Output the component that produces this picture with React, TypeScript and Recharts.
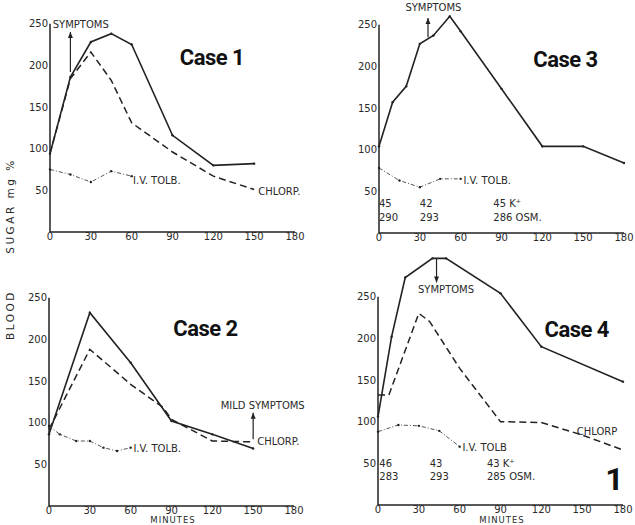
import { Line, LineChart, ReferenceDot, ReferenceLine, XAxis, YAxis } from "recharts"

const minuteTicks = [0, 30, 60, 90, 120, 150, 180]
const sugarTicks = [50, 100, 150, 200, 250]

// Case 1
const case1Minutes = [0, 15, 30, 45, 60, 90, 120, 150]
const case1Solid = [94, 186, 228, 238, 225, 116, 80, 82]
const case1Chlorp = [94, 184, 216, 182, 131, 96, 67, 51]
const case1TolbMinutes = [0, 15, 30, 45, 60]
const case1Tolb = [75, 69, 60, 73, 67]

// Case 2
const case2SolidMinutes = [0, 30, 60, 90, 120, 150]
const case2Solid = [86, 232, 172, 102, 86, 69]
const case2ChlorpMinutes = [0, 30, 60, 84, 90, 120, 150]
const case2Chlorp = [92, 188, 146, 118, 104, 78, 77]
const case2TolbMinutes = [0, 8, 20, 30, 40, 50, 60]
const case2Tolb = [96, 86, 78, 78, 70, 66, 70]

// Case 3
const case3Minutes = [0, 10, 20, 30, 40, 52, 60, 90, 120, 150, 180]
const case3Solid = [104, 157, 176, 227, 237, 260, 242, 173, 104, 104, 84]
const case3TolbMinutes = [0, 15, 30, 45, 60]
const case3Tolb = [78, 63, 55, 65, 65]

// Case 4
const case4SolidMinutes = [0, 10, 20, 40, 50, 90, 120, 180]
const case4Solid = [106, 202, 273, 296, 296, 254, 190, 148]
const case4ChlorpMinutes = [0, 8, 30, 38, 60, 90, 120, 150, 180]
const case4Chlorp = [132, 132, 230, 220, 164, 100, 99, 84, 66]
const case4TolbMinutes = [0, 15, 30, 45, 60]
const case4Tolb = [88, 96, 95, 89, 70]

const rows = (xs: number[], ys: number[]) => xs.map((m, i) => ({ minute: m, sugar: ys[i] }))

const INK = "#222"
const TEXT = "#2a2a2a"
const FONT = "'DejaVu Sans', sans-serif"

type Note = { x: number; y: number; text: string; anchor?: "start" | "middle" | "end"; size?: number; bold?: boolean; title?: boolean }
type Arrow = { x: number; from: number; to: number }

const noteShape = (n: Note) => (p: any) => (
  <text
    x={p.cx}
    y={p.cy}
    textAnchor={n.anchor ?? "start"}
    fontFamily={n.title ? "Roboto, 'Liberation Sans', sans-serif" : FONT}
    fontWeight={n.bold ? 700 : 400}
    fontSize={n.size ?? 10}
    letterSpacing={n.title ? -0.5 : 0}
    fill={n.title ? "#111" : TEXT}
  >
    {n.text}
  </text>
)

const headShape = (up: boolean) => (p: any) => {
  const d = up ? 6 : -6
  return <path d={`M${p.cx},${p.cy} L${p.cx - 2.5},${p.cy + d} L${p.cx + 2.5},${p.cy + d} Z`} fill={INK} />
}

interface PanelProps {
  left: number
  top: number
  solid: { minute: number; sugar: number }[]
  chlorp?: { minute: number; sugar: number }[]
  tolb: { minute: number; sugar: number }[]
  notes: Note[]
  arrows: Arrow[]
}

const Panel = ({ left, top, solid, chlorp, tolb, notes, arrows }: PanelProps) => {
  const dot = { r: 1.2, fill: INK, stroke: "none" }
  return (
    <div style={{ position: "absolute", left, top }}>
      <LineChart width={320} height={300} margin={{ top: 10, right: 35, bottom: 20, left: 0 }}>
        <XAxis
          type="number"
          dataKey="minute"
          domain={[0, 180]}
          ticks={minuteTicks}
          height={20}
          tickLine={false}
          tickSize={0}
          tickMargin={1}
          axisLine={{ stroke: INK, strokeWidth: 1.5 }}
          tick={{ fontSize: 10, fill: TEXT, fontFamily: FONT }}
        />
        <YAxis
          type="number"
          dataKey="sugar"
          domain={[0, 300]}
          ticks={sugarTicks}
          width={40}
          axisLine={false}
          tickLine={false}
          tickSize={1}
          tickMargin={1}
          tick={{ fontSize: 10, fill: TEXT, fontFamily: FONT }}
        />
        <ReferenceLine segment={[{ x: 0, y: 0 }, { x: 0, y: 250 }]} stroke={INK} strokeWidth={1.5} />
        <Line data={solid} dataKey="sugar" type="linear" stroke={INK} strokeWidth={1.6} dot={dot} isAnimationActive={false} />
        {chlorp && (
          <Line data={chlorp} dataKey="sugar" type="linear" stroke={INK} strokeWidth={1.5} strokeDasharray="7 4" dot={false} isAnimationActive={false} />
        )}
        <Line data={tolb} dataKey="sugar" type="linear" stroke="#555" strokeWidth={1} strokeDasharray="4 2 1 2" dot={dot} isAnimationActive={false} />
        {arrows.map((a, i) => (
          <ReferenceLine key={`al${i}`} segment={[{ x: a.x, y: a.from }, { x: a.x, y: a.to }]} stroke={INK} strokeWidth={1.2} />
        ))}
        {arrows.map((a, i) => (
          <ReferenceDot key={`ah${i}`} x={a.x} y={a.to} r={0} shape={headShape(a.to > a.from)} />
        ))}
        {notes.map((n, i) => (
          <ReferenceDot key={`n${i}`} x={n.x} y={n.y} r={0} shape={noteShape(n)} />
        ))}
      </LineChart>
    </div>
  )
}

export default function App() {
  return (
    <div style={{ position: "absolute", left: 0, top: 0, width: 635, height: 525, overflow: "hidden", background: "#fff" }}>
      <Panel
        left={10}
        top={-28}
        solid={rows(case1Minutes, case1Solid)}
        chlorp={rows(case1Minutes, case1Chlorp)}
        tolb={rows(case1TolbMinutes, case1Tolb)}
        arrows={[{ x: 15, from: 192, to: 240 }]}
        notes={[
          { x: 2, y: 245, text: "SYMPTOMS" },
          { x: 119, y: 200, text: "Case 1", anchor: "middle", size: 22, bold: true, title: true },
          { x: 61, y: 58, text: "I.V. TOLB." },
          { x: 153, y: 45, text: "CHLORP." },
        ]}
      />
      <Panel
        left={339}
        top={-27}
        solid={rows(case3Minutes, case3Solid)}
        tolb={rows(case3TolbMinutes, case3Tolb)}
        arrows={[{ x: 36, from: 235, to: 258 }]}
        notes={[
          { x: 40, y: 267, text: "SYMPTOMS", anchor: "middle" },
          { x: 137, y: 199, text: "Case 3", anchor: "middle", size: 22, bold: true, title: true },
          { x: 62, y: 59, text: "I.V. TOLB." },
          { x: 0, y: 31, text: "45" },
          { x: 0, y: 15, text: "290" },
          { x: 30, y: 31, text: "42" },
          { x: 30, y: 15, text: "293" },
          { x: 84, y: 31, text: "45 K⁺" },
          { x: 84, y: 15, text: "286 OSM." },
        ]}
      />
      <Panel
        left={9}
        top={246}
        solid={rows(case2SolidMinutes, case2Solid)}
        chlorp={rows(case2ChlorpMinutes, case2Chlorp)}
        tolb={rows(case2TolbMinutes, case2Tolb)}
        arrows={[{ x: 150, from: 80, to: 112 }]}
        notes={[
          { x: 157, y: 116, text: "MILD SYMPTOMS", anchor: "middle" },
          { x: 115, y: 204, text: "Case 2", anchor: "middle", size: 22, bold: true, title: true },
          { x: 62, y: 65, text: "I.V. TOLB." },
          { x: 153, y: 73, text: "CHLORP." },
        ]}
      />
      <Panel
        left={338}
        top={245}
        solid={rows(case4SolidMinutes, case4Solid)}
        chlorp={rows(case4ChlorpMinutes, case4Chlorp)}
        tolb={rows(case4TolbMinutes, case4Tolb)}
        arrows={[{ x: 43, from: 296, to: 267 }]}
        notes={[
          { x: 50, y: 255, text: "SYMPTOMS", anchor: "middle" },
          { x: 146, y: 202, text: "Case 4", anchor: "middle", size: 22, bold: true, title: true },
          { x: 62, y: 65, text: "I.V. TOLB" },
          { x: 146, y: 84, text: "CHLORP" },
          { x: 1, y: 46, text: "46" },
          { x: 1, y: 30, text: "283" },
          { x: 38, y: 46, text: "43" },
          { x: 38, y: 30, text: "293" },
          { x: 80, y: 46, text: "43  K⁺" },
          { x: 80, y: 30, text: "285 OSM." },
          { x: 180, y: 18, text: "1", anchor: "end", size: 32, bold: true, title: true },
        ]}
      />
      <svg width={635} height={525} style={{ position: "absolute", left: 0, top: 0, pointerEvents: "none" }}>
        <g fontFamily={FONT} fontSize={10.5} fill={TEXT}>
          <text transform="translate(14,315) rotate(-90)" textAnchor="middle" letterSpacing={2.5}>BLOOD</text>
          <text transform="translate(14,206) rotate(-90)" textAnchor="middle" letterSpacing={2.5}>SUGAR mg %</text>
          <text x={173} y={523} textAnchor="middle" fontSize={8.5} letterSpacing={1}>MINUTES</text>
          <text x={502} y={523} textAnchor="middle" fontSize={8.5} letterSpacing={1}>MINUTES</text>
        </g>
      </svg>
    </div>
  )
}
